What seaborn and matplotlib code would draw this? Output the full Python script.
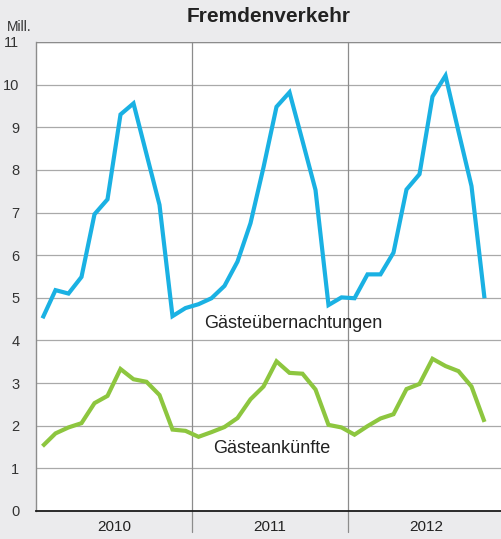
import numpy as np
import pandas as pd
import matplotlib
matplotlib.use("Agg")
import matplotlib.pyplot as plt
import seaborn as sns

# Monthly values Jan 2010 - Nov 2012, in millions
naechtigungen = [4.52, 5.18, 5.10, 5.49, 6.96, 7.31, 9.30, 9.56, 8.37, 7.18, 4.57, 4.76,
                 4.85, 4.99, 5.28, 5.85, 6.75, 8.06, 9.48, 9.82, 8.68, 7.53, 4.83, 5.01,
                 4.99, 5.55, 5.55, 6.06, 7.54, 7.90, 9.72, 10.21, 8.90, 7.62, 4.99]
ankuenfte = [1.52, 1.82, 1.96, 2.06, 2.53, 2.70, 3.33, 3.09, 3.03, 2.72, 1.91, 1.88,
             1.74, 1.85, 1.97, 2.18, 2.62, 2.92, 3.51, 3.24, 3.22, 2.85, 2.02, 1.96,
             1.79, 1.99, 2.17, 2.27, 2.86, 2.98, 3.57, 3.40, 3.28, 2.92, 2.09]
years = ["2010", "2011", "2012"]
y_ticks = list(range(0, 12))

BLUE = "#1ab1e3"
GREEN = "#8dc63f"
BG = "#ebebed"
GRID = "#a9a9a9"

sns.set_style("white")
plt.rcParams["font.family"] = ["Liberation Sans", "DejaVu Sans"]

n = len(naechtigungen)
df = pd.DataFrame({
    "monat": np.arange(n) + 0.5,
    "Gästeübernachtungen": naechtigungen,
    "Gästeankünfte": ankuenfte,
})

fig = plt.figure(figsize=(5.01, 5.39), dpi=100, facecolor=BG)
ax = fig.add_axes([36 / 501, 28 / 539, 468 / 501, 469 / 539])
ax.set_facecolor("white")

ax.set_xlim(0, 12 * len(years))
ax.set_ylim(0, 11)

# horizontal grid
for v in y_ticks[1:]:
    ax.axhline(v, color=GRID, lw=0.9, zorder=1)

# year separators, reaching down into the label band
for k in range(1, len(years)):
    ax.axvline(12 * k, ymin=-21 / 469, ymax=1, color="#8c8c8c", lw=0.9,
               clip_on=False, zorder=1)

sns.lineplot(data=df, x="monat", y="Gästeübernachtungen", ax=ax, color=BLUE,
             lw=3.0, solid_joinstyle="miter", solid_capstyle="butt", zorder=3)
sns.lineplot(data=df, x="monat", y="Gästeankünfte", ax=ax, color=GREEN,
             lw=3.0, solid_joinstyle="miter", solid_capstyle="butt", zorder=3)

# axes styling
for s in ["top", "right"]:
    ax.spines[s].set_visible(False)
ax.spines["left"].set_color("#8c8c8c")
ax.spines["left"].set_linewidth(1.0)
ax.spines["bottom"].set_color("#1a1a1a")
ax.spines["bottom"].set_linewidth(1.3)
ax.spines["bottom"].set_zorder(4)
ax.axhline(11, xmin=0, xmax=1, color="#8c8c8c", lw=1.0, zorder=2)

ax.set_yticks(y_ticks)
ax.set_yticklabels([str(v) for v in y_ticks], fontsize=10.5, color="#333333")
ax.tick_params(axis="y", length=0, pad=12)

month_edges = [m for m in range(1, 12 * len(years)) if m % 12 != 0]
ax.set_xticks(month_edges)
ax.set_xticklabels([])
ax.tick_params(axis="x", direction="in", length=6, width=0.9, color="#555555")
ax.set_xlabel("")
ax.set_ylabel("")

for k, yr in enumerate(years):
    ax.text(12 * k + 6, -0.37, yr, ha="center", va="center", fontsize=11,
            color="#222222")

ax.text(-29 / 13, 11.36, "Mill.", ha="left", va="center", fontsize=10,
        color="#333333")

fig.text(269 / 501, 1 - 17 / 539, "Fremdenverkehr", ha="center", va="center",
         fontsize=15, fontweight="bold", color="#222222")

ax.text(293.5 / 13 - 36 / 13, (511 - 323) / 42.64, "Gästeübernachtungen",
        ha="center", va="center", fontsize=13, color="#222222", zorder=5)
ax.text(271.5 / 13 - 36 / 13, (511 - 448) / 42.64, "Gästeankünfte",
        ha="center", va="center", fontsize=13, color="#222222", zorder=5)

fig.savefig("out.png", dpi=100, facecolor=BG)
